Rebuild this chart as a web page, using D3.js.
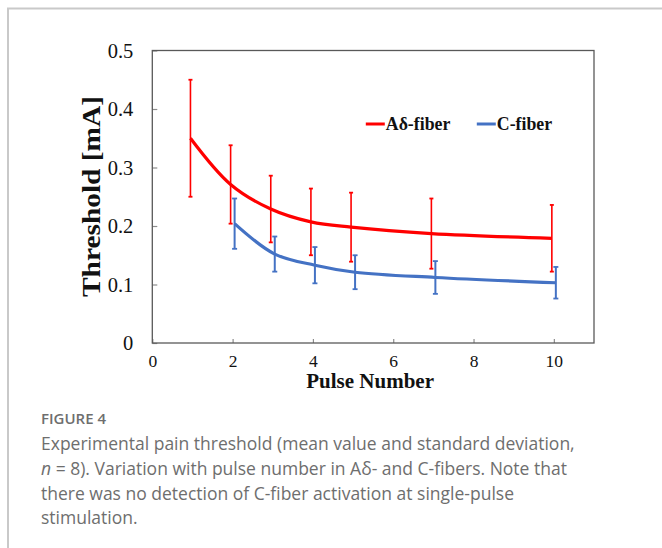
<!DOCTYPE html>
<html>
<head>
<meta charset="utf-8">
<script src="https://cdn.jsdelivr.net/npm/d3@7"></script>
<style>
  html, body { margin: 0; padding: 0; background: #fff; }
  svg { display: block; }
</style>
</head>
<body>
<div id="chart"></div>
<script>
// pulse numbers and measured thresholds (mA)
const aPulses = [1, 2, 3, 4, 5, 7, 10];
const aMean   = [0.350, 0.271, 0.229, 0.207, 0.198, 0.187, 0.179];
const aSD     = [0.100, 0.067, 0.057, 0.057, 0.059, 0.060, 0.057];

const cPulses = [2, 3, 4, 5, 7, 10];
const cMean   = [0.204, 0.152, 0.133, 0.121, 0.112, 0.103];
const cSD     = [0.043, 0.030, 0.031, 0.029, 0.028, 0.027];

const xTicks = [0, 2, 4, 6, 8, 10];
const yTicks = [0, 0.1, 0.2, 0.3, 0.4, 0.5];
const seriesNames = ["A\u03b4-fiber", "C-fiber"];

const W = 662, H = 548;
const margin = {top: 50.5, right: 68, bottom: 205, left: 152.3},
      width = W - margin.left - margin.right,
      height = H - margin.top - margin.bottom;

const svg = d3.select("#chart")
            .append("svg")
            .attr("width", W)
            .attr("height", H);

// card outline (top + left edges visible)
svg.append("path")
   .attr("d", `M8,${H + 5} V8.5 H${W + 5}`)
   .attr("fill", "none")
   .attr("stroke", "#c9c9c9")
   .attr("stroke-width", 2);

const x = d3.scaleLinear().domain([0, 11]).range([0, width]);
const y = d3.scaleLinear().domain([0, 0.5]).range([height, 0]);

const chart = svg.append("g")
                 .attr("transform", `translate(${margin.left},${margin.top})`);

// axes, ticks pointing inward
const yAxis = chart.append("g")
   .call(d3.axisLeft(y).tickValues(yTicks).tickSizeInner(-5).tickSizeOuter(0).tickPadding(19)
           .tickFormat(d => d === 0 ? "0" : d3.format(".1f")(d)));
yAxis.select(".domain").remove();
yAxis.selectAll(".tick line").attr("stroke", "#8c8c8c").attr("stroke-width", 1.2);
yAxis.selectAll("text")
     .attr("font-family", "'Liberation Serif', 'Times New Roman', serif")
     .attr("font-size", "20.5px")
     .attr("fill", "#111");

const xAxis = chart.append("g")
   .attr("transform", `translate(0,${height})`)
   .call(d3.axisBottom(x).tickValues(xTicks).tickSizeInner(-4).tickSizeOuter(0).tickPadding(12));
xAxis.select(".domain").remove();
xAxis.selectAll(".tick line").attr("stroke", "#8c8c8c").attr("stroke-width", 1.2);
xAxis.selectAll("text")
     .attr("font-family", "'Liberation Serif', 'Times New Roman', serif")
     .attr("font-size", "17.5px")
     .attr("fill", "#111");

chart.append("rect")
     .attr("width", width)
     .attr("height", height)
     .attr("fill", "none")
     .attr("stroke", "#595959")
     .attr("stroke-width", 1.3);

const series = [
  {pulses: aPulses, mean: aMean, sd: aSD, color: "#ff0000", shift: -2, barW: 1.6, cap: 2},
  {pulses: cPulses, mean: cMean, sd: cSD, color: "#4472c4", shift: 2, barW: 2, cap: 2.5}
];

const line = d3.line()
               .x(d => x(d.p))
               .y(d => y(d.m))
               .curve(d3.curveCatmullRom.alpha(0.5));

series.forEach(s => {
  const pts = s.pulses.map((p, i) => ({p: p, m: s.mean[i], sd: s.sd[i]}));
  const g = chart.append("g").attr("transform", `translate(${s.shift},0)`);

  g.append("path")
   .datum(pts)
   .attr("d", line)
   .attr("fill", "none")
   .attr("stroke", s.color)
   .attr("stroke-width", 3.2);

  const bars = g.selectAll(".err")
                .data(pts)
                .enter()
                .append("g");
  bars.append("line")
      .attr("x1", d => x(d.p)).attr("x2", d => x(d.p))
      .attr("y1", d => y(d.m + d.sd)).attr("y2", d => y(d.m - d.sd))
      .attr("stroke", s.color).attr("stroke-width", s.barW);
  [1, -1].forEach(sign => {
    bars.append("line")
        .attr("x1", d => x(d.p) - s.cap).attr("x2", d => x(d.p) + s.cap)
        .attr("y1", d => y(d.m + sign * d.sd)).attr("y2", d => y(d.m + sign * d.sd))
        .attr("stroke", s.color).attr("stroke-width", 1.8);
  });
});

// legend
const legend = chart.append("g").attr("transform", "translate(213.5,73.5)");
const legendX = [0, 111];
series.forEach((s, i) => {
  const lg = legend.append("g").attr("transform", `translate(${legendX[i]},0)`);
  lg.append("line")
    .attr("x1", 0).attr("x2", 19)
    .attr("stroke", s.color).attr("stroke-width", 3);
  lg.append("text")
    .attr("x", 20).attr("y", 6)
    .attr("font-family", "'Liberation Serif', 'Times New Roman', serif")
    .attr("font-weight", "bold")
    .attr("font-size", "17.8px")
    .attr("fill", "#111")
    .text(seriesNames[i]);
});

// axis titles
chart.append("text")
     .attr("x", width / 2 - 3)
     .attr("y", height + 45)
     .attr("text-anchor", "middle")
     .attr("font-family", "'Liberation Serif', 'Times New Roman', serif")
     .attr("font-weight", "bold")
     .attr("font-size", "21px")
     .attr("fill", "#111")
     .text("Pulse Number");

svg.append("text")
   .attr("transform", "translate(100,196.5) rotate(-90)")
   .attr("text-anchor", "middle")
   .attr("font-family", "'Liberation Serif', 'Times New Roman', serif")
   .attr("font-weight", "bold")
   .attr("font-size", "25px")
   .attr("textLength", 201)
   .attr("lengthAdjust", "spacingAndGlyphs")
   .attr("fill", "#111")
   .text("Threshold [mA]");

// caption
const cap = svg.append("g")
               .attr("font-family", "'Open Sans', 'Noto Sans', sans-serif")
               .attr("fill", "#6e6e6e");
cap.append("text")
   .attr("x", 41).attr("y", 423.5)
   .attr("font-size", "15px")
   .attr("font-weight", 600)
   .text("FIGURE 4");

const capLines = [
  ["Experimental pain threshold (mean value and standard deviation,"],
  ["n", " = 8). Variation with pulse number in A\u03b4- and C-fibers. Note that"],
  ["there was no detection of C-fiber activation at single-pulse"],
  ["stimulation."]
];
capLines.forEach((parts, i) => {
  const t = cap.append("text")
               .attr("x", 41).attr("y", 450 + i * 24.8)
               .attr("font-size", "17.5px")
               .attr("font-weight", 400);
  parts.forEach((p, j) => {
    t.append("tspan")
     .attr("font-style", (i === 1 && j === 0) ? "italic" : null)
     .text(p);
  });
});
</script>
</body>
</html>
